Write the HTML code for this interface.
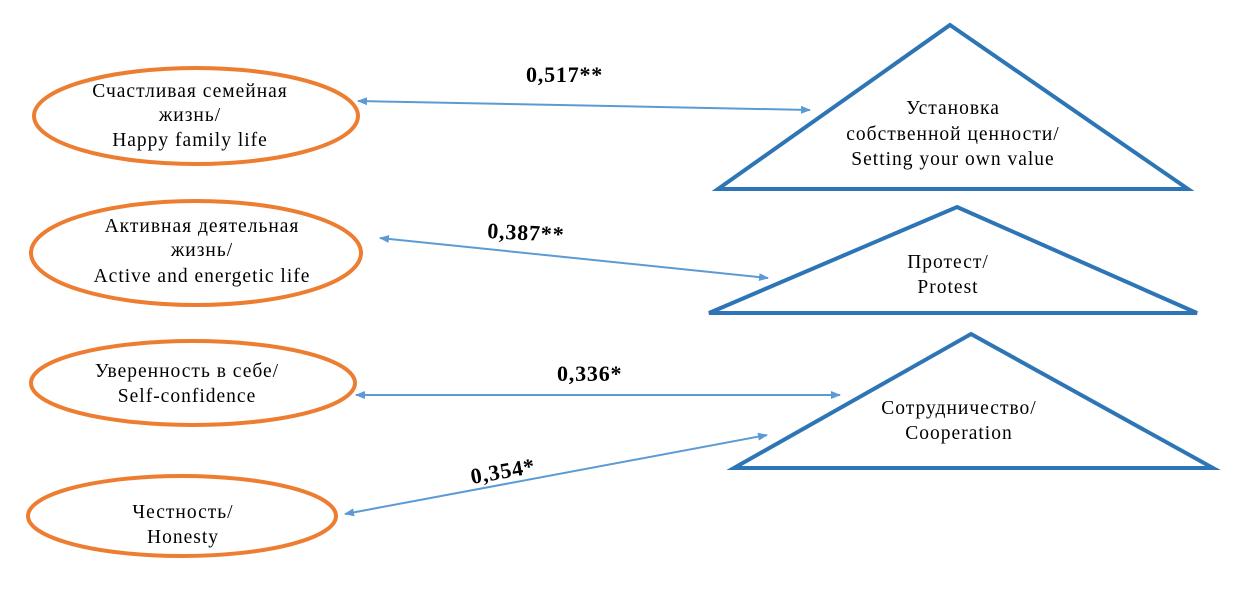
<!DOCTYPE html>
<html><head><meta charset="utf-8"><style>
html,body{margin:0;padding:0;background:#fff;}
svg text{font-family:"Liberation Serif",serif;}
</style></head><body>
<svg width="1234" height="588" viewBox="0 0 1234 588" xmlns="http://www.w3.org/2000/svg">
<defs>
<marker id="a" markerWidth="10" markerHeight="8" refX="9" refY="4" orient="auto-start-reverse" markerUnits="userSpaceOnUse">
<path d="M0,0 L10,4 L0,8 z" fill="#5B9BD5"/></marker>
</defs>
<g fill="none" stroke="#ED7D31" stroke-width="4">
<ellipse cx="196" cy="116" rx="162" ry="48"/>
<ellipse cx="196" cy="253" rx="165" ry="52"/>
<ellipse cx="193" cy="383" rx="162" ry="42"/>
<ellipse cx="182" cy="516" rx="154" ry="40"/>
</g>
<g fill="none" stroke="#2E75B6" stroke-width="4" stroke-linejoin="miter">
<polygon points="950,25 1188,189 718,189"/>
<polygon points="957,207 1197,313 709,313"/>
<polygon points="971,334 1213,468 734,468"/>
</g>
<g stroke="#5B9BD5" stroke-width="2" marker-start="url(#a)" marker-end="url(#a)">
<line x1="358" y1="101" x2="810" y2="110"/>
<line x1="380" y1="238" x2="768" y2="278"/>
<line x1="356" y1="395" x2="840" y2="395"/>
<line x1="345" y1="514" x2="767" y2="435"/>
</g>
<g font-size="19.5" letter-spacing="1" text-anchor="middle" fill="#000">
<text x="190" y="97">Счастливая семейная</text>
<text x="190" y="121">жизнь/</text>
<text x="190" y="146">Happy family life</text>
<text x="202" y="232">Активная деятельная</text>
<text x="202" y="256">жизнь/</text>
<text x="202" y="282">Active and energetic life</text>
<text x="187" y="377">Уверенность в себе/</text>
<text x="187" y="402">Self-confidence</text>
<text x="183" y="518">Честность/</text>
<text x="183" y="543">Honesty</text>
<text x="953" y="114">Установка</text>
<text x="953" y="140">собственной ценности/</text>
<text x="953" y="165">Setting your own value</text>
<text x="948" y="268">Протест/</text>
<text x="948" y="293">Protest</text>
<text x="959" y="414">Сотрудничество/</text>
<text x="959" y="439">Cooperation</text>
</g>
<g font-size="22" letter-spacing="0.8" font-weight="bold" fill="#000">
<text x="526" y="82">0,517**</text>
<text x="487" y="238" transform="rotate(3 487 238)">0,387**</text>
<text x="557" y="381">0,336*</text>
<text x="472" y="484" transform="rotate(-10 472 484)">0,354*</text>
</g>
</svg>
</body></html>
